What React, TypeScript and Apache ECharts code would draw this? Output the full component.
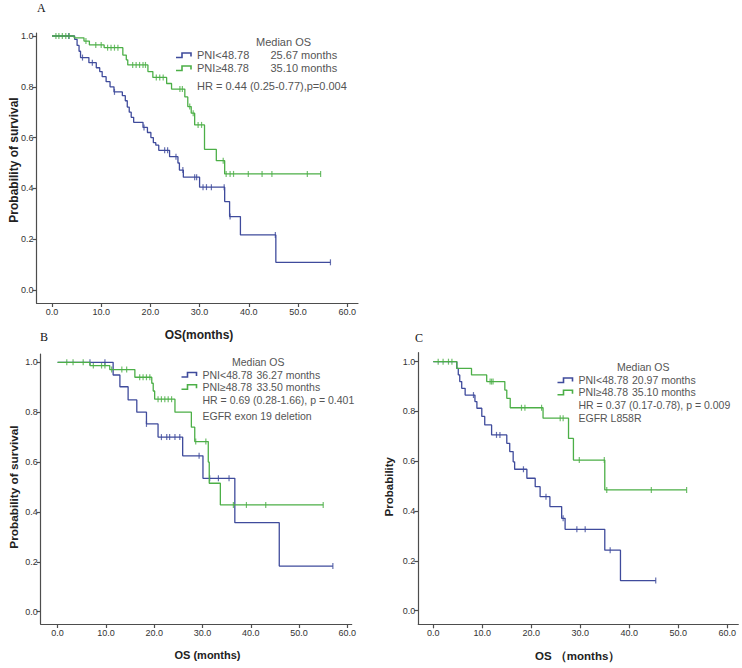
import React, { useEffect, useRef } from "react";
import * as echarts from "echarts";

type Pt = [number, number];

const X_TICKS = [0, 10, 20, 30, 40, 50, 60];
const Y_TICKS = [0, 0.2, 0.4, 0.6, 0.8, 1.0];

const GROUP_LOW = "PNI<48.78";
const GROUP_HIGH = "PNI≥48.78";

// ---------- Panel A ----------
const A_LOW_EVENTS: Pt[] = [[0, 1], [4.6, 0.987], [5.1, 0.963], [5.5, 0.94], [5.8, 0.915], [7.5, 0.895], [9.0, 0.875], [9.7, 0.86], [10.2, 0.84], [11.0, 0.82], [11.8, 0.8], [12.6, 0.78], [14.3, 0.765], [14.9, 0.745], [15.3, 0.72], [15.7, 0.7], [16.1, 0.68], [16.6, 0.66], [18.5, 0.64], [19.4, 0.62], [20.1, 0.6], [20.6, 0.58], [21.1, 0.57], [21.7, 0.55], [23.9, 0.525], [25.6, 0.5], [25.9, 0.472], [26.7, 0.444], [30.0, 0.405], [35.1, 0.348], [36.1, 0.289], [38.3, 0.217], [45.5, 0.109]];
const A_LOW_END = 56.6;
const A_LOW_CENSORS = [3.4, 6.2, 8.2, 12.7, 18.7, 22.9, 23.5, 25.2, 26.6, 29.0, 29.4, 30.7, 31.4, 32.4, 35.0, 36.2, 45.4, 56.6];
const A_HIGH_EVENTS: Pt[] = [[0, 1], [4.5, 0.993], [6.5, 0.98], [7.6, 0.965], [10.6, 0.954], [14.4, 0.925], [15.1, 0.906], [15.4, 0.886], [19.5, 0.86], [20.5, 0.837], [23.3, 0.813], [24.3, 0.791], [27.0, 0.76], [27.6, 0.722], [28.3, 0.696], [29.0, 0.65], [31.0, 0.554], [33.4, 0.509], [35.1, 0.457]];
const A_HIGH_END = 54.6;
const A_HIGH_CENSORS = [0.8, 1.4, 2.1, 2.8, 3.5, 6.9, 8.9, 10.0, 11.3, 12.0, 12.7, 13.4, 16.4, 17.1, 17.8, 18.5, 19.0, 21.2, 21.9, 22.6, 26.0, 26.5, 28.0, 28.7, 29.7, 30.4, 34.8, 35.4, 36.2, 36.9, 39.9, 42.7, 44.7, 51.9, 54.6];
const A_MEDIANS = ["25.67 months", "35.10 months"];
const A_NOTES = ["HR = 0.44 (0.25-0.77),p=0.004"];

// ---------- Panel B ----------
const B_LOW_EVENTS: Pt[] = [[0, 1], [11.5, 0.949], [12.9, 0.902], [14.6, 0.849], [16.4, 0.8], [18.4, 0.753], [20.8, 0.7], [25.9, 0.625], [30.1, 0.535], [36.7, 0.357], [45.9, 0.183]];
const B_LOW_END = 57.0;
const B_LOW_CENSORS = [6.7, 9.8, 18.4, 21.5, 22.6, 23.2, 24.3, 25.3, 29.3, 31.5, 33.3, 35.5, 57.0];
const B_HIGH_EVENTS: Pt[] = [[0, 1], [6.7, 0.987], [10.8, 0.971], [16.0, 0.94], [19.5, 0.916], [19.8, 0.885], [20.1, 0.852], [24.3, 0.8], [27.7, 0.74], [28.4, 0.682], [31.2, 0.6], [31.4, 0.515], [33.7, 0.428]];
const B_HIGH_END = 55.0;
const B_HIGH_CENSORS = [1.9, 3.2, 5.3, 7.4, 9.1, 9.8, 11.2, 13.3, 14.3, 17.0, 17.7, 18.4, 19.1, 20.8, 21.5, 22.2, 22.9, 23.6, 28.6, 30.7, 36.4, 39.1, 43.1, 55.0];
const B_MEDIANS = ["36.27 months", "33.50 months"];
const B_NOTES = ["HR = 0.69 (0.28-1.66), p = 0.401", "EGFR exon 19 deletion"];

// ---------- Panel C ----------
const C_LOW_EVENTS: Pt[] = [[0, 1], [4.8, 0.973], [5.1, 0.947], [5.4, 0.92], [5.8, 0.893], [6.5, 0.866], [8.5, 0.84], [8.9, 0.813], [9.9, 0.78], [10.5, 0.746], [11.9, 0.706], [15.0, 0.672], [15.6, 0.639], [16.3, 0.598], [16.6, 0.568], [19.1, 0.532], [20.8, 0.498], [21.8, 0.458], [23.8, 0.418], [26.2, 0.371], [26.9, 0.327], [35.0, 0.243], [38.2, 0.121]];
const C_LOW_END = 45.4;
const C_LOW_CENSORS = [8.2, 12.9, 13.6, 18.4, 23.0, 26.5, 29.3, 31.0, 36.1, 45.4];
const C_HIGH_EVENTS: Pt[] = [[0, 1], [4.8, 0.973], [7.8, 0.947], [10.9, 0.92], [14.6, 0.886], [15.0, 0.853], [15.7, 0.815], [22.4, 0.773], [27.6, 0.692], [28.6, 0.605], [35.0, 0.485]];
const C_HIGH_END = 51.7;
const C_HIGH_CENSORS = [1.0, 2.0, 3.1, 3.8, 11.6, 11.9, 12.2, 18.0, 18.7, 22.1, 25.9, 26.5, 29.8, 34.9, 35.4, 44.5, 51.7];
const C_MEDIANS = ["20.97 months", "35.10 months"];
const C_NOTES = ["HR = 0.37 (0.17-0.78), p = 0.009", "EGFR L858R"];

const BLUE = "#3f4b9c";
const GREEN = "#4caf47";
const AXIS = "#4d4d4d";
const SANS = "'Liberation Sans', Arial, sans-serif";
const SERIF = "'Liberation Serif', 'Times New Roman', serif";

function survivalAt(events: Pt[], t: number): number {
  let v = events[0][1];
  for (const [et, ev] of events) {
    if (et <= t) v = ev;
  }
  return v;
}

function curveData(events: Pt[], end: number): Pt[] {
  return [...events, [end, events[events.length - 1][1]]];
}

function censorData(events: Pt[], censors: number[]): Pt[] {
  return censors.map((t) => [t, survivalAt(events, t)] as Pt);
}

interface PanelLayout {
  left: number; top: number; width: number; height: number;
  xMin: number; xMax: number; yMin: number; yMax: number;
}

const LAYOUTS: PanelLayout[] = [
  { left: 36.5, top: 33, width: 321.5, height: 270, xMin: -3.15, xMax: 62.2, yMin: -0.0512, yMax: 1.0118 },
  { left: 40.7, top: 354, width: 311, height: 270, xMin: -3.5, xMax: 60.9, yMin: -0.0493, yMax: 1.0333 },
  { left: 418.3, top: 352.7, width: 320, height: 271.6, xMin: -3.06, xMax: 62.25, yMin: -0.0546, yMax: 1.0361 },
];

const PANELS = [
  { low: [A_LOW_EVENTS, A_LOW_END, A_LOW_CENSORS], high: [A_HIGH_EVENTS, A_HIGH_END, A_HIGH_CENSORS] },
  { low: [B_LOW_EVENTS, B_LOW_END, B_LOW_CENSORS], high: [B_HIGH_EVENTS, B_HIGH_END, B_HIGH_CENSORS] },
  { low: [C_LOW_EVENTS, C_LOW_END, C_LOW_CENSORS], high: [C_HIGH_EVENTS, C_HIGH_END, C_HIGH_CENSORS] },
] as const;

function txt(text: string, x: number, y: number, opts: any = {}) {
  const align = opts.align || "left";
  return {
    type: "text",
    x,
    y,
    rotation: opts.rotation || 0,
    silent: true,
    style: {
      text,
      fill: opts.fill || "#555",
      fontSize: opts.fontSize || 11,
      fontWeight: opts.fontWeight || "normal",
      fontFamily: opts.fontFamily || SANS,
      align,
      textAlign: align,
      verticalAlign: "middle",
      textVerticalAlign: "middle",
    },
  };
}

function legendIcon(x: number, y: number, color: string) {
  return {
    type: "polyline",
    silent: true,
    shape: { points: [[x, y + 2.5], [x + 6, y + 2.5], [x + 6, y - 2], [x + 15, y - 2], [x + 15, y + 1.5]] },
    style: { stroke: color, lineWidth: 1.6, fill: "none" },
  };
}

function legendBlock(medianX: number, medianY: number, iconX: number, textX: number, monthsX: number,
  rowYs: number[], noteYs: number[], medians: string[], notes: string[], fontSize: number) {
  const els: any[] = [];
  const o = { fontSize };
  els.push(txt("Median OS", medianX, medianY, o));
  els.push(legendIcon(iconX, rowYs[0], BLUE));
  els.push(legendIcon(iconX, rowYs[1], GREEN));
  els.push(txt(GROUP_LOW, textX, rowYs[0], o));
  els.push(txt(GROUP_HIGH, textX, rowYs[1], o));
  els.push(txt(medians[0], monthsX, rowYs[0], o));
  els.push(txt(medians[1], monthsX, rowYs[1], o));
  notes.forEach((n, i) => els.push(txt(n, textX, noteYs[i], o)));
  return els;
}

export default function App() {
  const ref = useRef<HTMLDivElement>(null);

  useEffect(() => {
    if (!ref.current) return;
    const chart = echarts.init(ref.current, undefined, { renderer: "svg" });

    const grids: any[] = [];
    const xAxes: any[] = [];
    const yAxes: any[] = [];
    const series: any[] = [];

    LAYOUTS.forEach((L, i) => {
      grids.push({ left: L.left, top: L.top, width: L.width, height: L.height, containLabel: false, outerBoundsMode: "none" });
      xAxes.push({
        gridIndex: i,
        type: "value",
        min: L.xMin,
        max: L.xMax,
        splitLine: { show: false },
        axisLine: { show: true, onZero: false, lineStyle: { color: AXIS, width: 1.2 } },
        axisTick: { show: true, length: 4, customValues: X_TICKS, lineStyle: { color: AXIS, width: 1.2 } },
        axisLabel: {
          customValues: X_TICKS,
          formatter: (v: number) => v.toFixed(1),
          fontSize: 9,
          color: "#333",
          margin: 4,
          fontFamily: SANS,
        },
      });
      yAxes.push({
        gridIndex: i,
        type: "value",
        min: L.yMin,
        max: L.yMax,
        splitLine: { show: false },
        axisLine: { show: true, onZero: false, lineStyle: { color: AXIS, width: 1.2 } },
        axisTick: { show: true, length: 4, customValues: Y_TICKS, lineStyle: { color: AXIS, width: 1.2 } },
        axisLabel: {
          customValues: Y_TICKS,
          formatter: (v: number) => v.toFixed(1),
          fontSize: 9,
          color: "#333",
          margin: 3,
          fontFamily: SANS,
        },
      });

      const P = PANELS[i];
      const groups: [readonly any[], string][] = [[P.low, BLUE], [P.high, GREEN]];
      groups.forEach(([g, color]) => {
        const [events, end, censors] = g as [Pt[], number, number[]];
        series.push({
          type: "line",
          xAxisIndex: i,
          yAxisIndex: i,
          step: "end",
          symbol: "none",
          silent: true,
          lineStyle: { color, width: 1.3 },
          data: curveData(events, end),
        });
        series.push({
          type: "scatter",
          xAxisIndex: i,
          yAxisIndex: i,
          symbol: "rect",
          symbolSize: [1.2, 6],
          silent: true,
          itemStyle: { color },
          data: censorData(events, censors),
        });
      });
    });

    const graphics: any[] = [
      // panel letters
      txt("A", 37, 7.5, { fill: "#111", fontSize: 12, fontFamily: SERIF }),
      txt("B", 40, 337, { fill: "#111", fontSize: 12, fontFamily: SERIF }),
      txt("C", 415, 337.5, { fill: "#111", fontSize: 12, fontFamily: SERIF }),
      // axis titles
      txt("OS(months)", 199, 335, { align: "center", fill: "#222", fontSize: 12, fontWeight: "bold" }),
      txt("Probability of survival", 13.5, 160, { align: "center", fill: "#222", fontSize: 12, fontWeight: "bold", rotation: Math.PI / 2 }),
      txt("OS (months)", 207.5, 655, { align: "center", fill: "#222", fontSize: 11, fontWeight: "bold" }),
      txt("Probability of survival", 13.5, 487, { align: "center", fill: "#222", fontSize: 11.8, fontWeight: "bold", rotation: Math.PI / 2 }),
      txt("OS （months）", 577.7, 656, { align: "center", fill: "#222", fontSize: 11.5, fontWeight: "bold" }),
      txt("Probability", 389.3, 486.7, { align: "center", fill: "#222", fontSize: 11.5, fontWeight: "bold", rotation: Math.PI / 2 }),
      ...legendBlock(256, 42, 176, 197, 270.5, [55, 68], [86], A_MEDIANS, A_NOTES, 11),
      ...legendBlock(232, 362.3, 181.5, 202.5, 256.5, [374.5, 386.7], [399.5, 415.5], B_MEDIANS, B_NOTES, 10.5),
      ...legendBlock(617, 367.3, 557.5, 578.5, 632, [380, 392.2], [405, 418.3], C_MEDIANS, C_NOTES, 10.5),
    ];

    chart.setOption({
      animation: false,
      backgroundColor: "#ffffff",
      grid: grids,
      xAxis: xAxes,
      yAxis: yAxes,
      series,
      graphic: graphics,
    });

    return () => chart.dispose();
  }, []);

  return (
    <div
      ref={ref}
      style={{ position: "absolute", left: 0, top: 0, width: 742, height: 668, background: "#fff" }}
    />
  );
}
